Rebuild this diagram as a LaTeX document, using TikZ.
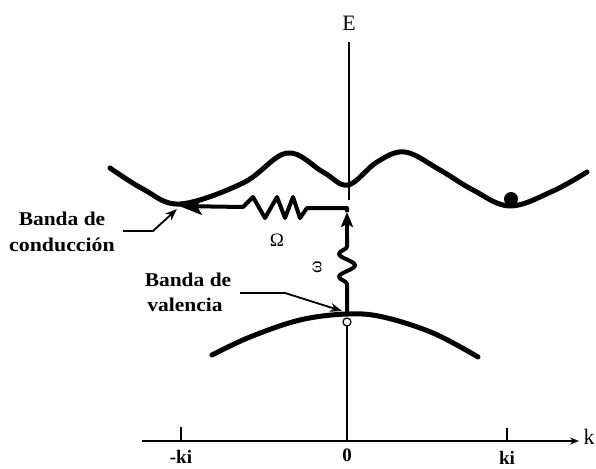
\documentclass[tikz,border=0pt]{standalone}
\usepackage{fontspec}
\setmainfont{Liberation Serif}
\usetikzlibrary{arrows.meta,decorations.pathmorphing}
\begin{document}
\begin{tikzpicture}[x=1pt,y=-1pt,
  band/.style={line width=5pt, line cap=round, line join=round},
  heavy/.style={line width=4pt, line join=round},
  axisline/.style={line width=2.8pt},
  thinline/.style={line width=1.6pt},
  pointer/.style={line width=1.8pt, -{Stealth[length=12pt,width=9pt]}},
  lbl/.style={font=\bfseries\fontsize{19.5}{23}\selectfont, inner sep=0pt, anchor=base},
  axlbl/.style={font=\fontsize{22}{24}\selectfont, inner sep=0pt},
  ticklbl/.style={font=\bfseries\fontsize{19}{20}\selectfont, inner sep=0pt, anchor=base},
  greek/.style={font=\fontsize{19}{20}\selectfont, inner sep=0pt}]
\useasboundingbox (0,0) rectangle (596,468);

% named points
\coordinate (Etop) at (349,42);
\coordinate (Ebot) at (349,200);
\coordinate (vtop) at (347,314);
\coordinate (vlow) at (347,326);
\coordinate (origin) at (347,441);
\coordinate (kleft) at (142,441);
\coordinate (kright) at (579,441);
\coordinate (cmin) at (179,206);
\coordinate (corner) at (347,208);
\coordinate (wmid) at (347,236);
\coordinate (wtip) at (347,212);
\coordinate (cTail) at (123,231);
\coordinate (cTip) at (177,209);
\coordinate (vTail) at (240,293);
\coordinate (vTip) at (342,311);
\coordinate (mki) at (181,441);
\coordinate (pki) at (507,441);

% E axis
\draw[thinline] (Etop) -- (Ebot);
\node[axlbl] (E) at (349,23) {E};

% k axis
\draw[axisline, -{Stealth[length=9pt,width=7pt]}] (kleft) -- (kright);
\node[axlbl] (k) at (589,437) {k};
\draw[axisline] (mki) -- ++(0,-14);
\draw[line width=1.4pt] (pki) -- ++(0,-13);
\draw[thinline] (vlow) -- (origin);
\node[ticklbl] (lmki) at (181,463) {-ki};
\node[ticklbl] (l0) at (347,461) {0};
\node[ticklbl] (lpki) at (507,464) {ki};

% conduction band
\draw[band] plot[smooth, tension=0.6] coordinates {(110,168) (143,189) (180,204) (243,183) (287,153) (323,172) (348,185) (377,162) (405,152) (440,170) (473,190) (510,206) (553,191) (587,172)};
\fill (511,199) circle (7);

% valence band
\draw[band] plot[smooth, tension=0.6] coordinates {(212,355) (250,337) (300,320) (347,314) (383,317) (433,333) (478,357)};

% Omega transition (spring)
\draw[heavy, -{Stealth[length=23pt,width=17pt,inset=5pt]}] (wtip) -- (corner) -- (307,208) -- (300,218) -- (293,197) -- (285,218) -- (277,197) -- (265,218) -- (253,197) -- (243,207) -- (cmin);
\node[greek] (Om) at (277,240) {Ω};

% omega transition (wiggle)
\draw[heavy, decorate, decoration={snake, segment length=23pt, amplitude=8pt, pre length=30pt, post length=1pt}] (vtop) -- (wmid);
\draw[heavy, -{Stealth[length=15pt,width=12pt,inset=3pt]}] (wmid) -- (wtip);
\node[greek, rotate=90] (om) at (317,267) {ω};

% labels
\node[lbl] (cb1) at (62,225) {\scalebox{1.1}[1]{Banda de}};
\node[lbl] (cb2) at (62,251) {\scalebox{1.12}[1]{conducción}};
\draw[pointer] (cTail) -- (153,231) -- (cTip);
\node[lbl] (vb1) at (188,286) {\scalebox{1.1}[1]{Banda de}};
\node[lbl] (vb2) at (185,311) {\scalebox{1.1}[1]{valencia}};
\draw[pointer] (vTail) -- (285,293) -- (vTip);

% open circle at top of valence band
\draw[line width=1.2pt, fill=white] (347,322) circle (4);
\end{tikzpicture}
\end{document}
